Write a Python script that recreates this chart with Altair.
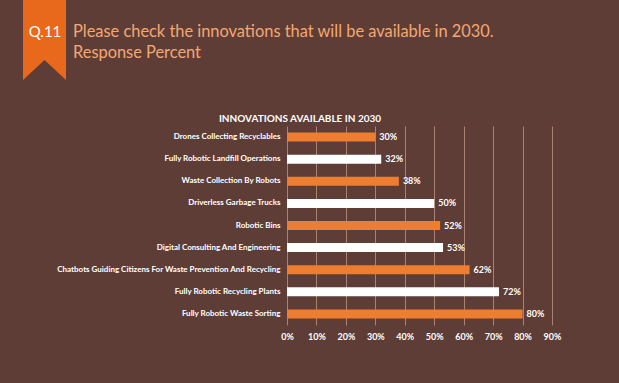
import importlib
import altair as alt
import pandas as pd

categories = [
    "Drones Collecting Recyclables",
    "Fully Robotic Landfill Operations",
    "Waste Collection  By Robots",
    "Driverless Garbage Trucks",
    "Robotic Bins",
    "Digital Consulting  And Engineering",
    "Chatbots Guiding Citizens For Waste Prevention And Recycling",
    "Fully Robotic Recycling Plants",
    "Fully Robotic Waste Sorting",
]
values = [30, 32, 38, 50, 52, 53, 62, 72, 80]
groups = ["o", "w", "o", "w", "o", "w", "o", "w", "o"]
tick_values = [0, 10, 20, 30, 40, 50, 60, 70, 80, 90]

BG = "#5f3d37"
ORANGE = "#ed7d31"
WHITE = "#ffffff"
GRID = "#a88272"
FONT = "Lato"

df = pd.DataFrame({"cat": categories, "val": values, "grp": groups})
df["label"] = df["val"].astype(str) + "%"

# page background / margin to match the full-bleed reference
try:
    _html_mod = importlib.import_module("altair.utils.html")
    _orig = _html_mod.spec_to_html

    def _wrapped(*a, **k):
        html = _orig(*a, **k)
        return html.replace(
            "<head>",
            "<head><style>body{background:%s;margin:0;}</style>" % BG,
            1,
        )

    for _name in ("altair.utils.html", "altair.utils.mimebundle", "altair.utils.save"):
        try:
            _m = importlib.import_module(_name)
            if hasattr(_m, "spec_to_html"):
                setattr(_m, "spec_to_html", _wrapped)
        except Exception:
            pass
except Exception:
    pass

x_enc = alt.X(
    "val:Q",
    scale=alt.Scale(domain=[0, 90], nice=False),
    axis=alt.Axis(title=None, values=tick_values, labelExpr="datum.value + '%'"),
)
y_enc = alt.Y(
    "cat:N",
    sort=categories,
    scale=alt.Scale(paddingInner=0, paddingOuter=0),
    axis=alt.Axis(title=None),
)

bars = alt.Chart(df).mark_bar(size=9).encode(
    x=x_enc,
    y=y_enc,
    color=alt.Color(
        "grp:N",
        scale=alt.Scale(domain=["o", "w"], range=[ORANGE, WHITE]),
        legend=None,
    ),
)

labels = alt.Chart(df).mark_text(
    align="left", baseline="middle", dx=4, color=WHITE, font=FONT,
    fontWeight="bold", fontSize=9,
).encode(x=x_enc, y=y_enc, text="label:N")

# header decorations
ribbon_shape = "M-0.5375,-1 L0.5375,-1 L0.5375,1 L0,0.5 L-0.5375,1 Z"
ribbon = alt.Chart(pd.DataFrame({"k": [0]})).mark_point(
    shape=ribbon_shape, filled=True, opacity=1, size=6400, color="#e8691b", strokeWidth=0
).encode(x=alt.value(-242.5), y=alt.value(-86))

qtext = alt.Chart(pd.DataFrame({"t": ["Q.11"]})).mark_text(
    align="center", baseline="alphabetic", color=WHITE, font=FONT, fontSize=15,
).encode(x=alt.value(-242), y=alt.value(-89), text="t:N")

head1 = alt.Chart(pd.DataFrame({"t": ["Please check the innovations that will be available in 2030."]})).mark_text(
    align="left", baseline="alphabetic", color="#f3a872", font=FONT, fontSize=16.4,
).encode(x=alt.value(-214), y=alt.value(-89), text="t:N")

head2 = alt.Chart(pd.DataFrame({"t": ["Response Percent"]})).mark_text(
    align="left", baseline="alphabetic", color="#f3a872", font=FONT, fontSize=16.4,
).encode(x=alt.value(-214), y=alt.value(-68), text="t:N")

ctitle = alt.Chart(pd.DataFrame({"t": ["INNOVATIONS AVAILABLE IN 2030"]})).mark_text(
    align="center", baseline="alphabetic", color=WHITE, font=FONT, fontSize=10,
    fontWeight="bold",
).encode(x=alt.value(13), y=alt.value(-4), text="t:N")

chart = (
    alt.layer(bars, labels, ribbon, qtext, head1, head2, ctitle)
    .properties(
        width=265,
        height=199,
        background=BG,
        padding={"left": 287, "top": 126, "right": 67, "bottom": 58},
        autosize=alt.AutoSizeParams(type="none"),
    )
    .configure_view(stroke=None)
    .configure_axisX(
        labelColor=WHITE,
        labelFont=FONT,
        labelFontWeight="bold",
        labelFontSize=9,
        labelPadding=7,
        labelOverlap=False,
        labelSeparation=0,
        labelFlush=False,
        ticks=False,
        domain=False,
        grid=True,
        gridColor=GRID,
        gridWidth=1,
    )
    .configure_axisY(
        labelColor=WHITE,
        labelFont=FONT,
        labelFontWeight="bold",
        labelFontSize=8,
        labelPadding=7,
        ticks=False,
        domain=False,
        grid=False,
        labelLimit=300,
    )
)

chart.save("out.html", embed_options={"renderer": "svg", "actions": False})
